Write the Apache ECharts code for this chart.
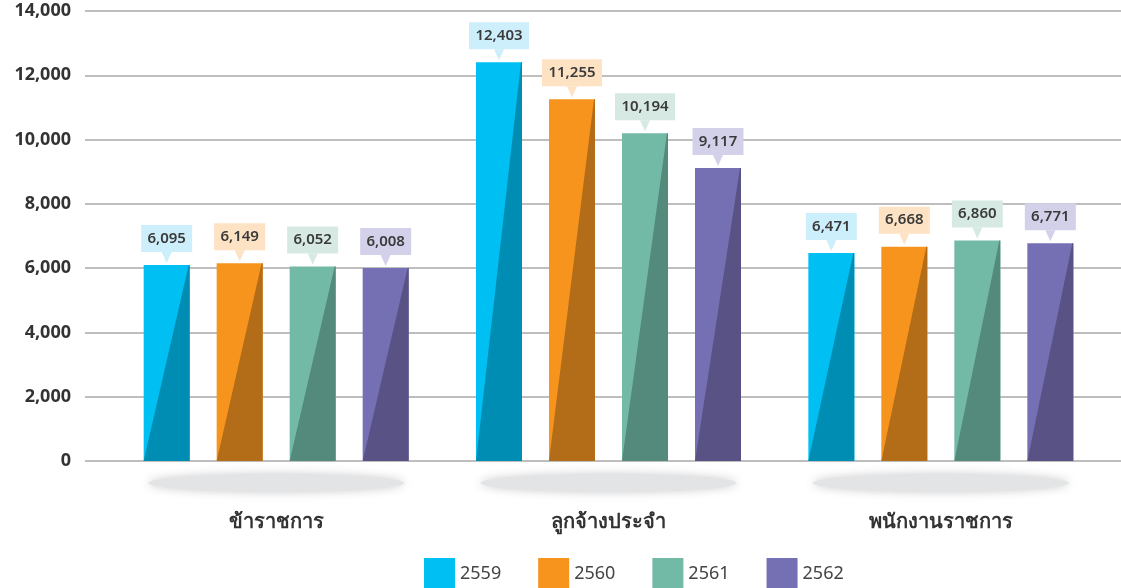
<!DOCTYPE html>
<html>
<head>
<meta charset="utf-8">
<script src="https://cdn.jsdelivr.net/npm/echarts@6/dist/echarts.min.js"></script>
<style>
  html, body { margin: 0; padding: 0; background: #fff; }
  #main { width: 1121px; height: 588px; }
</style>
</head>
<body>
<div id="main"></div>
<script>
// ข้อมูลกราฟ
var categories = ['ข้าราชการ', 'ลูกจ้างประจำ', 'พนักงานราชการ'];
var years = ['2559', '2560', '2561', '2562'];
var values2559 = [6095, 12403, 6471];
var values2560 = [6149, 11255, 6668];
var values2561 = [6052, 10194, 6860];
var values2562 = [6008, 9117, 6771];
var yTicks = [0, 2000, 4000, 6000, 8000, 10000, 12000, 14000];

var seriesValues = [values2559, values2560, values2561, values2562];

// สี: หลัก / เงา / กล่องป้าย
var mainColors = ['#00c0f3', '#f7941d', '#72b9a6', '#7570b3'];
var darkColors = ['#008db3', '#b36c17', '#548a7b', '#595385'];
var tagColors = ['#cdeefb', '#fde2c3', '#d6eae3', '#d3d1ea'];

var fontFamily = '"Noto Sans", "Open Sans", sans-serif';

var barWidth = 46,
    barStep = 73;

function fmt(v) {
    return v.toString().replace(/\B(?=(\d{3})+(?!\d))/g, ',');
}

function makeRender(s) {
    return function (params, api) {
        var cat = api.value(0);
        var val = api.value(1);
        var top = api.coord([cat, val]);
        var base = api.coord([cat, 0]);
        var cx = top[0] + (s - 1.5) * barStep;
        var x0 = cx - barWidth / 2,
            x1 = cx + barWidth / 2;
        var y0 = base[1],
            y1 = top[1];
        var text = fmt(val);
        var boxW = text.length * 9 + 6;
        var boxH = 27;
        var boxBottom = y1 - 13;
        return {
            type: 'group',
            children: [
                {
                    type: 'rect',
                    shape: {x: x0, y: y1, width: barWidth, height: y0 - y1},
                    style: {fill: mainColors[s]}
                },
                {
                    type: 'polygon',
                    shape: {points: [[x0, y0], [x1 - 1, y1], [x1, y1], [x1, y0]]},
                    style: {fill: darkColors[s]}
                },
                {
                    type: 'rect',
                    shape: {x: cx - boxW / 2, y: boxBottom - boxH, width: boxW, height: boxH},
                    style: {fill: tagColors[s]}
                },
                {
                    type: 'polygon',
                    shape: {points: [[cx - 5, boxBottom], [cx + 5, boxBottom], [cx, y1 - 2]]},
                    style: {fill: tagColors[s]}
                },
                {
                    type: 'text',
                    style: {
                        x: cx, y: boxBottom - boxH / 2,
                        text: text,
                        align: 'center', verticalAlign: 'middle',
                        fill: '#3a3a3a',
                        font: '600 15px ' + fontFamily
                    }
                }
            ]
        };
    };
}

function renderShadow(params, api) {
    var c = api.coord([api.value(0), 0]);
    return {
        type: 'ellipse',
        shape: {cx: c[0], cy: c[1] + 22, rx: 128, ry: 9},
        style: {
            fill: '#e3e4e5',
            shadowBlur: 10,
            shadowColor: 'rgba(200,200,200,0.9)'
        },
        silent: true
    };
}

var series = years.map(function (y, s) {
    return {
        name: y,
        type: 'custom',
        xAxisIndex: 1,
        yAxisIndex: 1,
        itemStyle: {color: mainColors[s]},
        renderItem: makeRender(s),
        encode: {x: 0, y: 1},
        clip: false,
        z: 3,
        data: seriesValues[s].map(function (v, i) { return [i, v]; })
    };
});

series.unshift({
    name: 'shadow',
    type: 'custom',
    xAxisIndex: 1,
    yAxisIndex: 1,
    renderItem: renderShadow,
    clip: false,
    silent: true,
    z: 1,
    data: categories.map(function (c, i) { return [i, 0]; })
});

var chart = echarts.init(document.getElementById('main'));

chart.setOption({
    animation: false,
    legend: {
        left: 419,
        top: 553,
        data: years,
        itemWidth: 31,
        itemHeight: 31,
        itemGap: 37,
        icon: 'rect',
        textStyle: {fontFamily: fontFamily, fontSize: 18, color: '#444'}
    },
    grid: [
        // พื้นหลังเส้นกริด
        {left: 85, right: 0, top: 11, bottom: 127},
        // แท่งกราฟ
        {left: 110, right: 14, top: 11, bottom: 127}
    ],
    xAxis: [
        {gridIndex: 0, type: 'value', show: false, min: 0, max: 1},
        {
            gridIndex: 1,
            type: 'category',
            data: categories,
            axisLine: {show: false},
            axisTick: {show: false},
            axisLabel: {
                margin: 51,
                fontFamily: fontFamily,
                fontSize: 20,
                fontWeight: 'bold',
                color: '#333'
            }
        }
    ],
    yAxis: [
        {
            gridIndex: 0,
            type: 'value',
            min: yTicks[0],
            max: yTicks[yTicks.length - 1],
            interval: 2000,
            axisLine: {show: false},
            axisTick: {show: false},
            axisLabel: {
                margin: 14,
                fontFamily: fontFamily,
                fontSize: 18,
                fontWeight: 'bold',
                color: '#333',
                formatter: function (v) { return fmt(v); }
            },
            splitLine: {lineStyle: {color: '#a8a8a8', width: 1.5}}
        },
        {
            gridIndex: 1,
            type: 'value',
            min: yTicks[0],
            max: yTicks[yTicks.length - 1],
            interval: 2000,
            show: false
        }
    ],
    series: series
});
</script>
</body>
</html>
